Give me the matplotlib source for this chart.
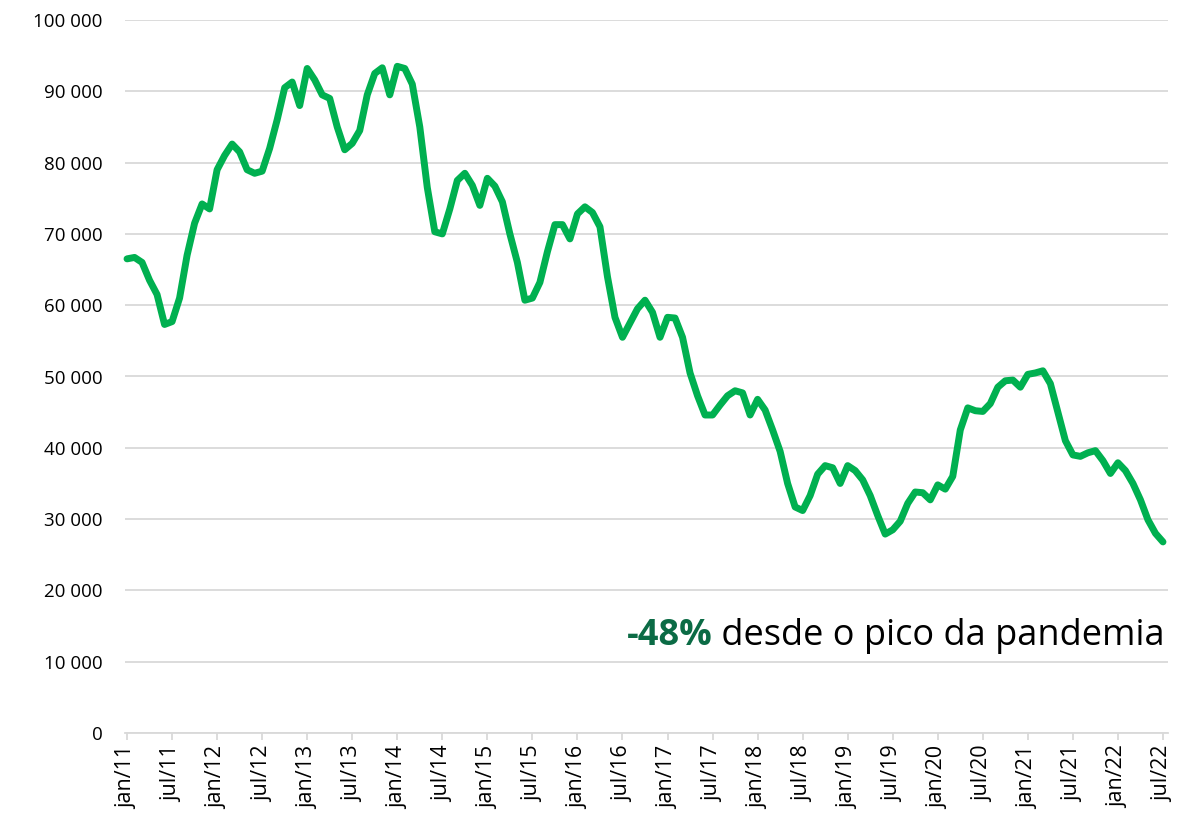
import matplotlib
matplotlib.use("Agg")
import matplotlib.pyplot as plt
import numpy as np

# monthly values jan/11 .. jul/22
values = [
    66500, 66700, 66000, 63500, 61500, 57300, 57700, 61000, 67000, 71500, 74200, 73500,
    79000, 81000, 82600, 81500, 79000, 78500, 78800, 82000, 86000, 90500, 91300, 88000,
    93200, 91600, 89500, 89000, 85000, 81800, 82700, 84500, 89500, 92500, 93300, 89500,
    93500, 93200, 91000, 85000, 76500, 70300, 70000, 73500, 77500, 78500, 76800, 74000,
    77800, 76700, 74500, 70000, 66000, 60700, 61000, 63200, 67500, 71300, 71300, 69300,
    72800, 73800, 73000, 71000, 64000, 58300, 55500, 57500, 59500, 60700, 59000, 55500,
    58300, 58200, 55500, 50500, 47300, 44600, 44600, 46000, 47300, 48000, 47700, 44600,
    46800, 45300, 42500, 39500, 35000, 31700, 31200, 33300, 36300, 37500, 37200, 35000,
    37500, 36800, 35500, 33300, 30500, 27900, 28500, 29700, 32200, 33800, 33700, 32700,
    34800, 34200, 36000, 42500, 45600, 45200, 45100, 46200, 48500, 49400, 49500, 48500,
    50300, 50500, 50800, 49000, 45000, 41000, 39000, 38800, 39300, 39600, 38200, 36400,
    37900, 36800, 35000, 32700, 29900, 28000, 26800,
]
tick_labels = ["jan/11", "jul/11", "jan/12", "jul/12", "jan/13", "jul/13", "jan/14",
               "jul/14", "jan/15", "jul/15", "jan/16", "jul/16", "jan/17", "jul/17",
               "jan/18", "jul/18", "jan/19", "jul/19", "jan/20", "jul/20", "jan/21",
               "jul/21", "jan/22", "jul/22"]
y_ticks = [0, 10000, 20000, 30000, 40000, 50000, 60000, 70000, 80000, 90000, 100000]
y_tick_labels = ["0", "10 000", "20 000", "30 000", "40 000", "50 000", "60 000",
                 "70 000", "80 000", "90 000", "100 000"]
annot_bold = "-48%"
annot_rest = " desde o pico da pandemia"

FONT = "Open Sans"
W, H = 1198, 822
fig = plt.figure(figsize=(W / 100, H / 100), dpi=100)
ax = fig.add_axes([125 / W, (H - 733) / H, (1168 - 125) / W, (733 - 20) / H])

x = np.arange(len(values))
ax.plot(x, values, color="#00B050", lw=5.0, solid_joinstyle="round",
        solid_capstyle="round", zorder=3, clip_on=False)

ax.set_ylim(0, 100000)
ax.set_xlim(-0.27, len(values) - 1 + 0.67)
ax.set_yticks(y_ticks)
ax.set_yticklabels(y_tick_labels, fontfamily=FONT, fontsize=13.5, color="#000000")
ax.set_xticks(np.arange(0, len(values), 6))
ax.set_xticklabels(tick_labels, rotation=90, fontfamily=FONT, fontsize=15.5,
                   color="#000000", va="top", ha="center")

ax.grid(axis="y", color="#D9D9D9", lw=1.3, zorder=0)
for s in ["top", "right", "left"]:
    ax.spines[s].set_visible(False)
ax.spines["bottom"].set_color("#D9D9D9")
ax.spines["bottom"].set_linewidth(1.3)
ax.tick_params(axis="y", length=0, pad=16)
ax.tick_params(axis="x", length=5, width=1.3, color="#D9D9D9", pad=4)
ax.set_axisbelow(True)

# annotation
fig.canvas.draw()
renderer = fig.canvas.get_renderer()
t2 = fig.text(1165 / W, (H - 636) / H, annot_rest, ha="right", va="center",
              fontfamily=FONT, fontsize=26, color="#000000")
bb = t2.get_window_extent(renderer=renderer)
fig.text(bb.x0 / W, (H - 636) / H, annot_bold, ha="right", va="center",
         fontfamily=FONT, fontsize=26, fontweight="bold", color="#0B6B45")

fig.savefig("out.png", dpi=100)
